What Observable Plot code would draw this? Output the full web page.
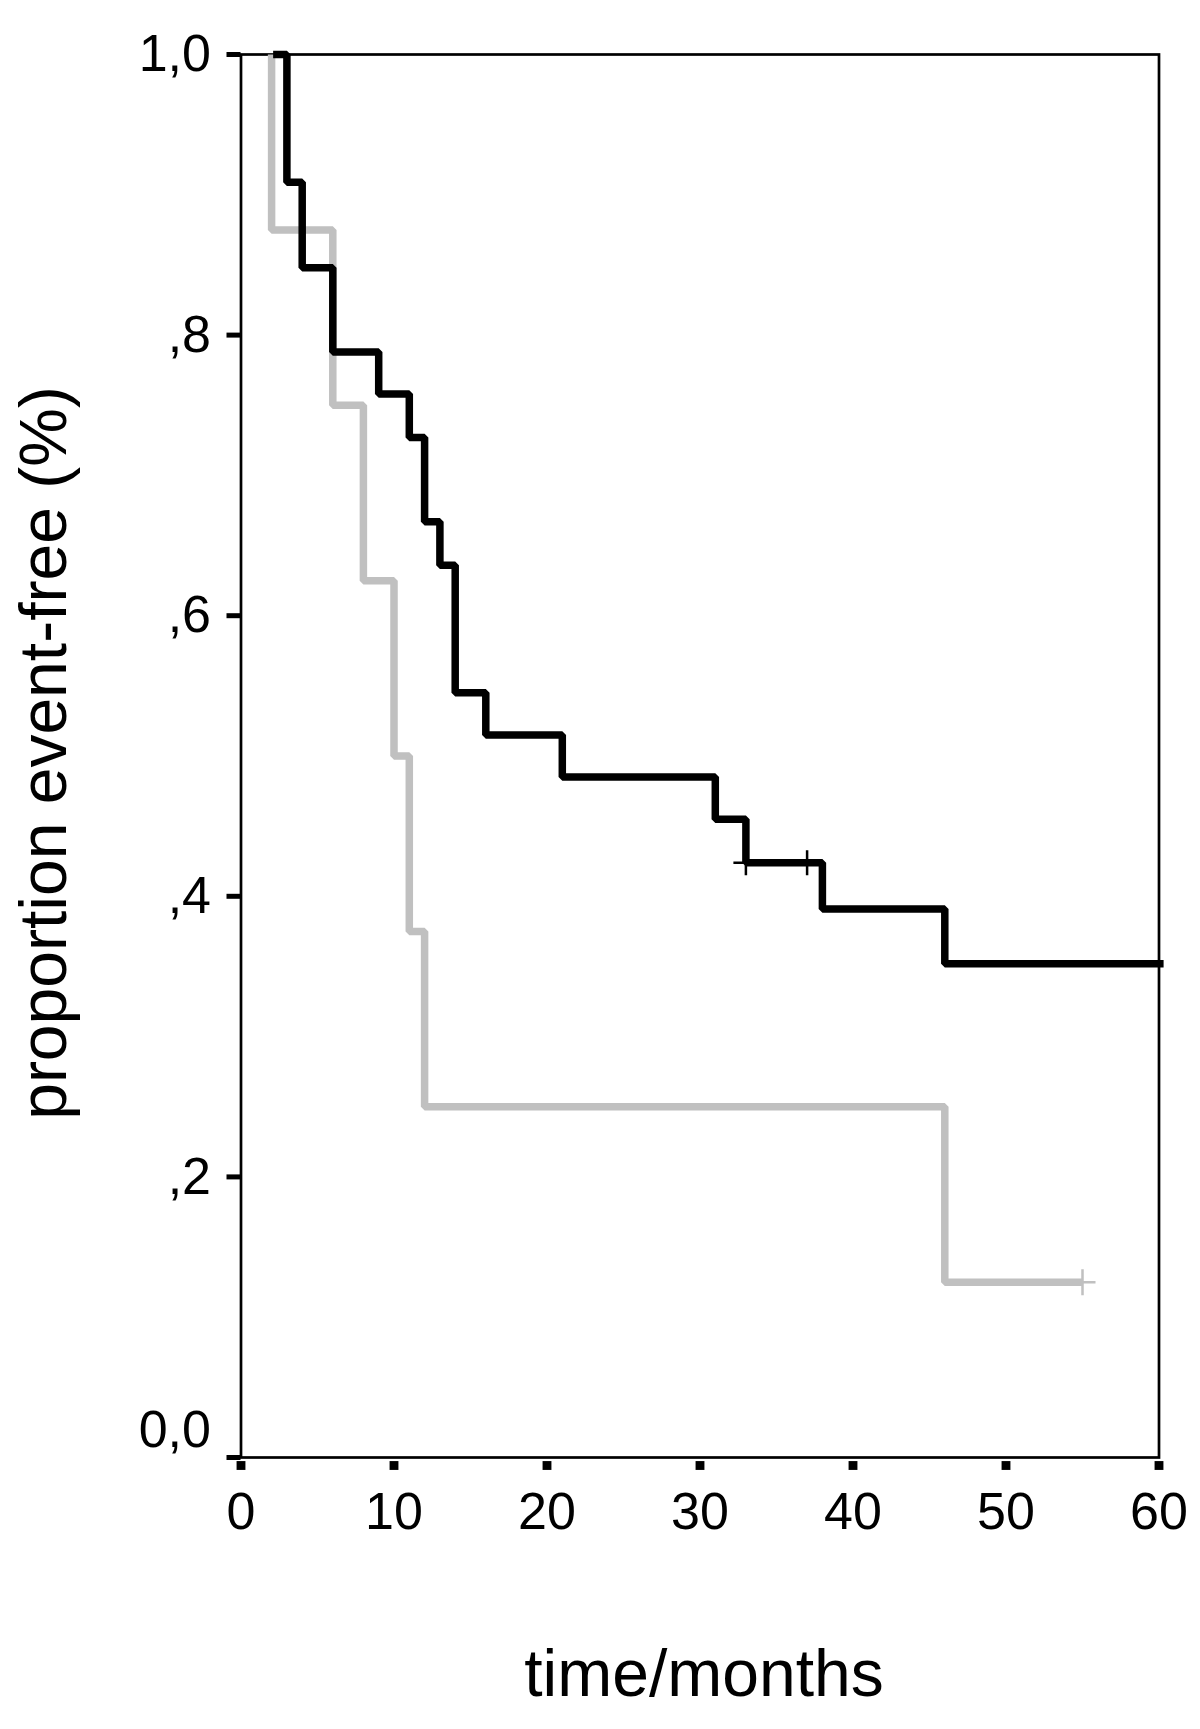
<!DOCTYPE html>
<html>
<head>
<meta charset="utf-8">
<script src="https://cdn.jsdelivr.net/npm/d3@7"></script>
<script src="https://cdn.jsdelivr.net/npm/@observablehq/plot@0.6"></script>
<style>
  html, body { margin: 0; padding: 0; background: #fff; }
  #chart svg { display: block; }
</style>
</head>
<body>
<div id="chart"></div>
<script>
// Black group: Kaplan–Meier steps (time in months, proportion event-free)
const blackTimes = [2.1, 3, 4, 6, 9, 11, 12, 13, 14, 16, 21, 31, 33, 38, 46, 60.3];
const blackSurv  = [1, 0.909, 0.848, 0.788, 0.758, 0.727, 0.667, 0.636, 0.545, 0.515, 0.485, 0.455, 0.424, 0.391, 0.352, 0.352];
const blackCensorTimes = [33, 37];
const blackCensorSurv  = [0.424, 0.424];

// Grey group
const greyTimes = [2, 2, 6, 8, 10, 11, 12, 46, 55];
const greySurv  = [1, 0.875, 0.75, 0.625, 0.5, 0.375, 0.25, 0.125, 0.125];
const greyCensorTimes = [55];
const greyCensorSurv  = [0.125];

// Axes
const xTicks = [0, 10, 20, 30, 40, 50, 60];
const xTickLabels = ["0", "10", "20", "30", "40", "50", "60"];
const yTicks = [0, 0.2, 0.4, 0.6, 0.8, 1.0];
const yTickLabels = ["0,0", ",2", ",4", ",6", ",8", "1,0"];
const xLabel = "time/months";
const yLabel = "proportion event-free (%)";

const BLACK = "#000000";
const GREY = "#c0c0c0";
const FONT = "'Liberation Sans', Arial, Helvetica, sans-serif";

const black = blackTimes.map((t, i) => ({t, s: blackSurv[i]}));
const grey = greyTimes.map((t, i) => ({t, s: greySurv[i]}));
const blackCens = blackCensorTimes.map((t, i) => ({t, s: blackCensorSurv[i]}));
const greyCens = greyCensorTimes.map((t, i) => ({t, s: greyCensorSurv[i]}));
const xt = xTicks.map((v, i) => ({v, label: xTickLabels[i]}));
const yt = yTicks.map((v, i) => ({v, label: yTickLabels[i]}));

const plusSymbol = {
  draw(context, size) {
    const r = Math.sqrt(size / Math.PI);
    context.moveTo(-r, 0); context.lineTo(r, 0);
    context.moveTo(0, -r); context.lineTo(0, r);
  }
};

const chart = Plot.plot({
  width: 1200,
  height: 1729,
  marginLeft: 240.5,
  marginRight: 41.5,
  marginTop: 54,
  marginBottom: 272,
  style: {fontFamily: FONT, background: "#fff", color: "#000"},
  x: {domain: [0, 60], axis: null},
  y: {domain: [0, 1], axis: null},
  marks: [
    Plot.frame({stroke: BLACK, strokeWidth: 2.7}),
    // y tick marks
    Plot.axisY(yTicks, {tickSize: 14, strokeWidth: 5, tickFormat: () => "", label: null}),
    // y tick labels
    Plot.text(yt.filter(d => d.v > 0), {y: "v", text: "label", frameAnchor: "left", dx: -30, textAnchor: "end", lineAnchor: "middle", fontSize: 52, fill: BLACK}),
    Plot.text(yt.filter(d => d.v === 0), {y: "v", text: "label", frameAnchor: "left", dx: -30, dy: -27, textAnchor: "end", lineAnchor: "middle", fontSize: 52, fill: BLACK}),
    // x tick marks (small squares below the axis)
    Plot.dot(xt, {x: "v", frameAnchor: "bottom", dy: 8, symbol: "square", r: 5, fill: BLACK, stroke: "none"}),
    // x tick labels
    Plot.text(xt, {x: "v", text: "label", frameAnchor: "bottom", lineAnchor: "bottom", dy: 71, fontSize: 52, fill: BLACK}),
    // curves
    Plot.line(grey, {x: "t", y: "s", curve: "step-after", stroke: GREY, strokeWidth: 7.5, strokeLinejoin: "miter", strokeLinecap: "butt"}),
    Plot.dot(greyCens, {x: "t", y: "s", symbol: plusSymbol, r: 13, stroke: GREY, strokeWidth: 2.5, fill: "none"}),
    Plot.line(black, {x: "t", y: "s", curve: "step-after", stroke: BLACK, strokeWidth: 7.5, strokeLinejoin: "miter", strokeLinecap: "butt"}),
    Plot.dot(blackCens, {x: "t", y: "s", symbol: plusSymbol, r: 12.5, stroke: BLACK, strokeWidth: 2.5, fill: "none"}),
    // axis titles
    Plot.text([xLabel], {text: d => d, frameAnchor: "bottom", textAnchor: "middle", lineAnchor: "bottom", dx: 4, dy: 238, fontSize: 66, fill: BLACK}),
    Plot.text([yLabel], {text: d => d, frameAnchor: "left", textAnchor: "middle", rotate: -90, lineAnchor: "bottom", dx: -175, dy: -3, fontSize: 66, fill: BLACK})
  ]
});

document.getElementById("chart").appendChild(chart);
</script>
</body>
</html>
